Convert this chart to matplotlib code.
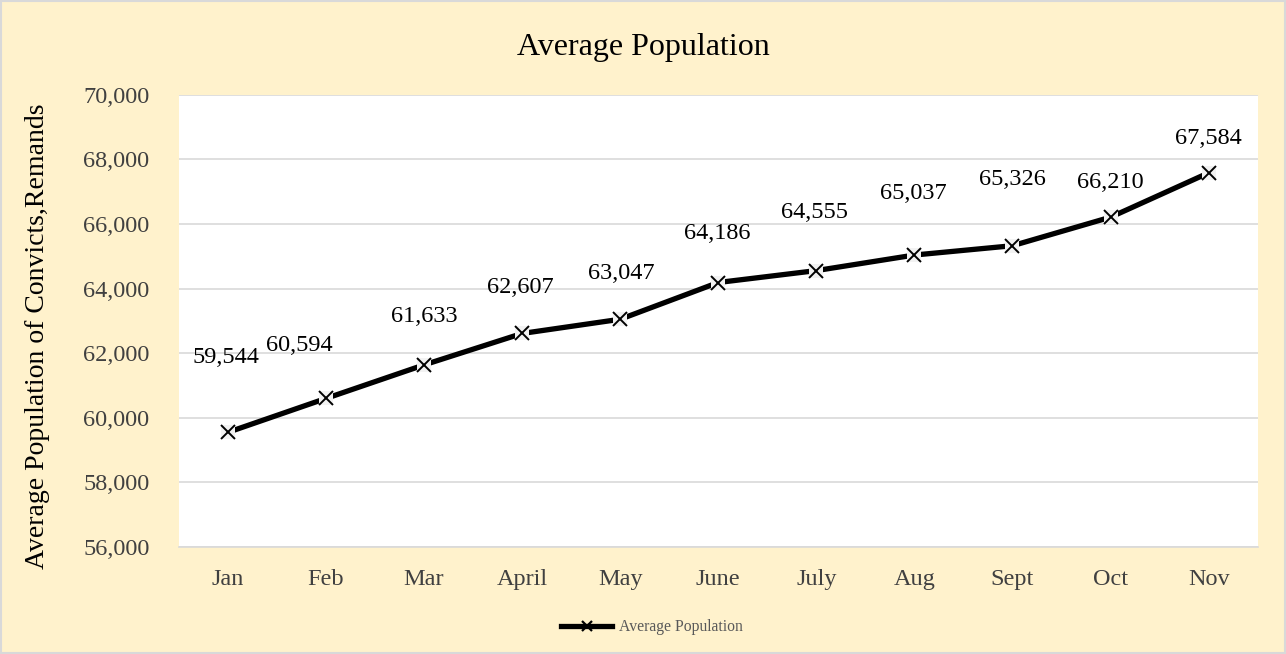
import matplotlib.pyplot as plt
from matplotlib.ticker import FuncFormatter, MultipleLocator
from matplotlib.patches import Rectangle
from matplotlib.lines import Line2D

months = ["Jan", "Feb", "Mar", "April", "May", "June", "July", "Aug", "Sept", "Oct", "Nov"]
population = [59544, 60594, 61633, 62607, 63047, 64186, 64555, 65037, 65326, 66210, 67584]

# label offsets in points (dx, dy), as placed in the original
label_offsets = [(-1, 54), (-19, 38), (0, 35), (-1, 33), (1, 33), (-1, 35),
                 (-1, 42), (-1, 44), (0, 48), (0, 25), (0, 25)]

plt.rcParams["font.family"] = ["Liberation Serif", "DejaVu Serif"]

fig = plt.figure(figsize=(12.86, 6.54), dpi=100, facecolor="#FFF2CC")
fig.patches.append(Rectangle((0.001, 0.001), 0.998, 0.997, transform=fig.transFigure,
                             fill=False, edgecolor="#D9D9D9", linewidth=1.5))
ax = fig.add_axes([0.139, 0.164, 0.839, 0.691])
ax.set_facecolor("white")

x = list(range(len(months)))
ax.plot(x, population, color="black", linewidth=3.8, zorder=3)
# Excel-style marker: light square behind a thin cross
ax.plot(x, population, linestyle="none", marker="s", markersize=10,
        markerfacecolor="#F2F2F2", markeredgewidth=0, zorder=4)
ax.plot(x, population, linestyle="none", marker="x", markersize=10,
        markeredgewidth=1.4, color="black", zorder=5)

for xi, v, (dx, dy) in zip(x, population, label_offsets):
    ax.annotate(f"{v:,}", (xi, v), xytext=(dx, dy), textcoords="offset points",
                ha="center", va="center", fontsize=17.5, color="black")

ax.set_xlim(-0.5, len(months) - 0.5)
ax.set_ylim(56000, 70000)
ax.yaxis.set_major_locator(MultipleLocator(2000))
ax.yaxis.set_major_formatter(FuncFormatter(lambda v, p: f"{int(v):,}"))
ax.set_xticks(x)
ax.set_xticklabels(months)
ax.grid(axis="y", color="#D9D9D9", linewidth=1.2)
ax.set_axisbelow(True)
for s in ["top", "right", "left"]:
    ax.spines[s].set_visible(False)
ax.spines["bottom"].set_color("#D9D9D9")
ax.spines["bottom"].set_linewidth(1.2)
ax.tick_params(length=0, labelsize=17.5, labelcolor="#404040")
ax.tick_params(axis="x", pad=16)
ax.tick_params(axis="y", pad=21)

ax.set_ylabel("Average Population of Convicts,Remands", fontsize=20, color="black")
ax.yaxis.set_label_coords(-0.119, 0.465)
fig.text(0.5, 0.928, "Average Population", ha="center", va="center", fontsize=23, color="black")

handle = Line2D([], [], color="black", linewidth=3.8, marker="x", markersize=7,
                markeredgewidth=1.6)
fig.legend(handles=[handle], labels=["Average Population"], loc="center",
           bbox_to_anchor=(0.507, 0.041), frameon=False, fontsize=11.3,
           labelcolor="#595959", handlelength=3.2, handletextpad=0.45)

fig.savefig("out.png", dpi=100, facecolor=fig.get_facecolor())
